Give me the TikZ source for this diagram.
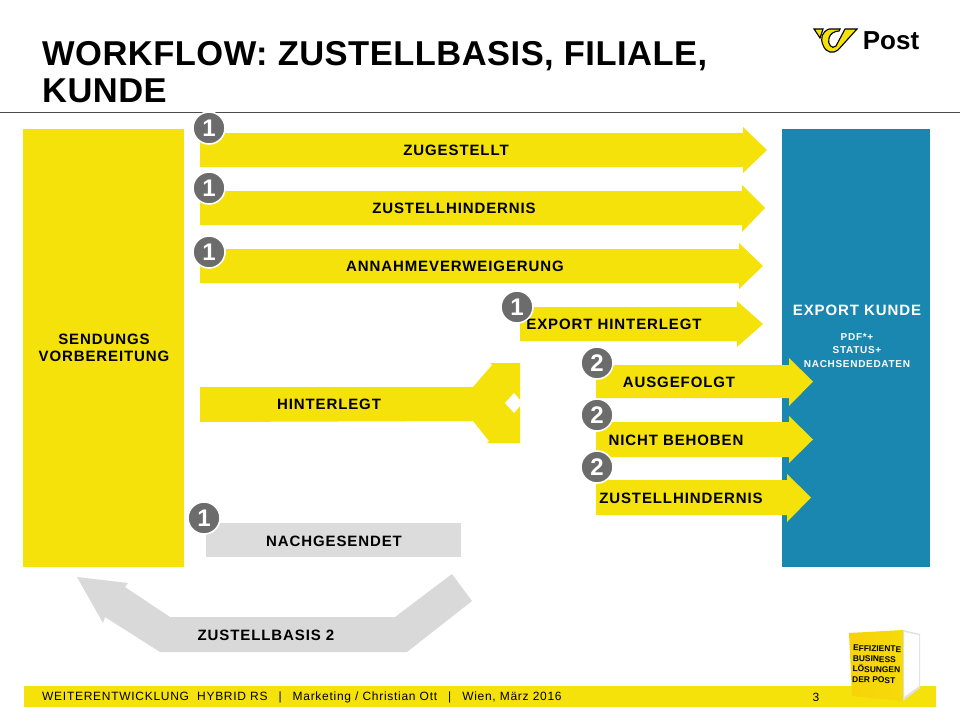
\documentclass[tikz,border=0pt]{standalone}
\usepackage{fontspec}
\setmainfont{Liberation Sans}
\newfontfamily\sperrfont[LetterSpace=6]{Liberation Sans}
\newfontfamily\kleinfont[LetterSpace=7]{Liberation Sans}
\newfontfamily\titelfont[LetterSpace=1.4]{Liberation Sans}
\newfontfamily\fussfont[LetterSpace=6]{Liberation Sans}
\usetikzlibrary{positioning}
\definecolor{postgelb}{HTML}{F5E20A}
\definecolor{postblau}{HTML}{1A87B0}
\definecolor{postgrau}{HTML}{DCDCDC}
\definecolor{pfeilgrau}{HTML}{D9D9D9}
\definecolor{badgegrau}{HTML}{6C6C6C}
\newcommand{\trenner}{\hspace{11pt}|\hspace{11pt}}
\tikzset{
  flaeche/.style={fill=postgelb,draw=none},
  label/.style={font=\sperrfont\fontsize{15}{17}\selectfont\bfseries,text=black,inner sep=0pt,align=center},
  labelweiss/.style={font=\sperrfont\fontsize{15}{17}\selectfont\bfseries,text=white,inner sep=0pt,align=center},
  klein/.style={font=\kleinfont\fontsize{10}{13.5}\selectfont\bfseries,text=white,inner sep=0pt,align=center},
  badge/.style={circle,fill=badgegrau,draw=white,line width=1.6pt,minimum size=32pt,inner sep=0pt,text=white,font=\fontsize{24}{24}\selectfont\bfseries},
  fuss/.style={font=\fussfont\fontsize{12}{14}\selectfont,text=black,inner sep=0pt},
}
\begin{document}
\begin{tikzpicture}[x=1pt,y=-1pt]
\useasboundingbox (0,0) rectangle (960,720);
\fill[white] (0,0) rectangle (960,720);
% header
\node[anchor=west,align=left,inner sep=0pt,font=\titelfont\fontsize{34.5}{37}\selectfont\bfseries] (titel) at (42,72.5) {WORKFLOW: ZUSTELLBASIS, FILIALE,\\KUNDE};
\draw[line width=0.8pt,black!70] (0,112) -- (960,112);
% logo
\draw[fill=postgelb,line width=1.1pt] (814,29) -- (823,29) -- (820,38) --cycle;
\draw[fill=postgelb,line width=1.1pt] (857,29) -- (845,29) -- (836,46) .. controls (832,50) and (827,44) .. (829,38) .. controls (830,34) and (834,31) .. (839,31) -- (840,29) -- (829,29) .. controls (822,32) and (820,38) .. (823,45) .. controls (826,53) and (833,54) .. (838,50) --cycle;
\node[inner sep=0pt,font=\fontsize{26}{26}\selectfont\bfseries] (post) at (891,41) {Post};
% boxes
\fill[postgelb] (23,129) rectangle (184,567);
\fill[postblau] (782,129) rectangle (930,567);
% arrows: left, body top, body bottom, head base, head top, head bottom, tip
\foreach \l/\t/\b/\k/\o/\u/\s in {200/133/167/743/127/173/767,
    200/191/225/742/185/232/765,
    200/249/283/739/243/289/763,
    520/307/341/737/301/347/763,
    596/365/398/789/358/406/813,
    596/422/457/789/416/463/813,
    596/480/515/787/474/522/811}
  \fill[flaeche] (\l,\t) -- (\k,\t) -- (\k,\o) -- (\s,{(\t+\b)/2}) -- (\k,\u) -- (\k,\b) -- (\l,\b) --cycle;
% hinterlegt
\fill[flaeche] (200,387) -- (473,387) -- (492,365) -- (490,363) -- (520,363) -- (520,443) -- (487,443) -- (489,441) -- (473,421) -- (200,422) --cycle;
\fill[white] (505,403) -- (514,393) -- (520,400) -- (520,406) -- (514,413) --cycle;
% nachgesendet
\fill[postgrau] (206,523) rectangle (461,557);
\fill[pfeilgrau] (77,577) -- (128,583) -- (125,587) -- (170,617) -- (395,617) -- (452,574) -- (472,601) -- (407,652) -- (160,652) -- (105,617) -- (103,623) --cycle;
% texts
\node[label] (sendung) at (104,348) {SENDUNGS\\VORBEREITUNG};
\node[label] (zugestellt) at (456,150) {ZUGESTELLT};
\node[label] (hindernis) at (454,208) {ZUSTELLHINDERNIS};
\node[label] (annahme) at (455,266) {ANNAHMEVERWEIGERUNG};
\node[label] (export) at (614,324) {EXPORT HINTERLEGT};
\node[label] (ausgefolgt) at (679,382) {AUSGEFOLGT};
\node[label] (behoben) at (676,440) {NICHT BEHOBEN};
\node[label] (hindernisb) at (681,498) {ZUSTELLHINDERNIS};
\node[label] (hinterlegt) at (329,404) {HINTERLEGT};
\node[label] (nachgesendet) at (334,541) {NACHGESENDET};
\node[label] (basis) at (266,635) {ZUSTELLBASIS 2};
\node[labelweiss] (kunde) at (857,310) {EXPORT KUNDE};
\node[klein] (daten) at (857,350.5) {PDF*+\\STATUS+\\NACHSENDEDATEN};
% badges
\node[badge] (eins) at (209,128) {1};
\node[badge] (zwei) at (209,188) {1};
\node[badge] (drei) at (209,252) {1};
\node[badge] (vier) at (517,307) {1};
\node[badge] (fuenf) at (597,363) {2};
\node[badge] (sechs) at (597,415) {2};
\node[badge] (sieben) at (597,467) {2};
\node[badge] (acht) at (204,518) {1};
% footer
\fill[postgelb] (24,686) rectangle (936,707);
\node[fuss,anchor=west] (fusstext) at (42,697) {WEITERENTWICKLUNG\ \ HYBRID RS\trenner Marketing / Christian Ott\trenner Wien, März 2016};
\node[fuss] (seite) at (816,697) {3};
% cube
\fill[black!12] (903,630) -- (920,634) -- (920,688) -- (903,701) --cycle;
\fill[white] (904,632) -- (919,635) -- (919,686) -- (904,697) --cycle;
\shade[left color=postgelb!85!orange,right color=postgelb!92!orange] (849,633) -- (903,630) -- (903,701) -- (852,696) --cycle;
\node[inner sep=0pt,rotate=-1.5,anchor=north west,align=left,font=\fontsize{8.4}{10.4}\selectfont\bfseries] (wuerfel) at (853,645) {EFFIZIENTE\\BUSINESS\\LÖSUNGEN\\DER POST};
\end{tikzpicture}
\end{document}
